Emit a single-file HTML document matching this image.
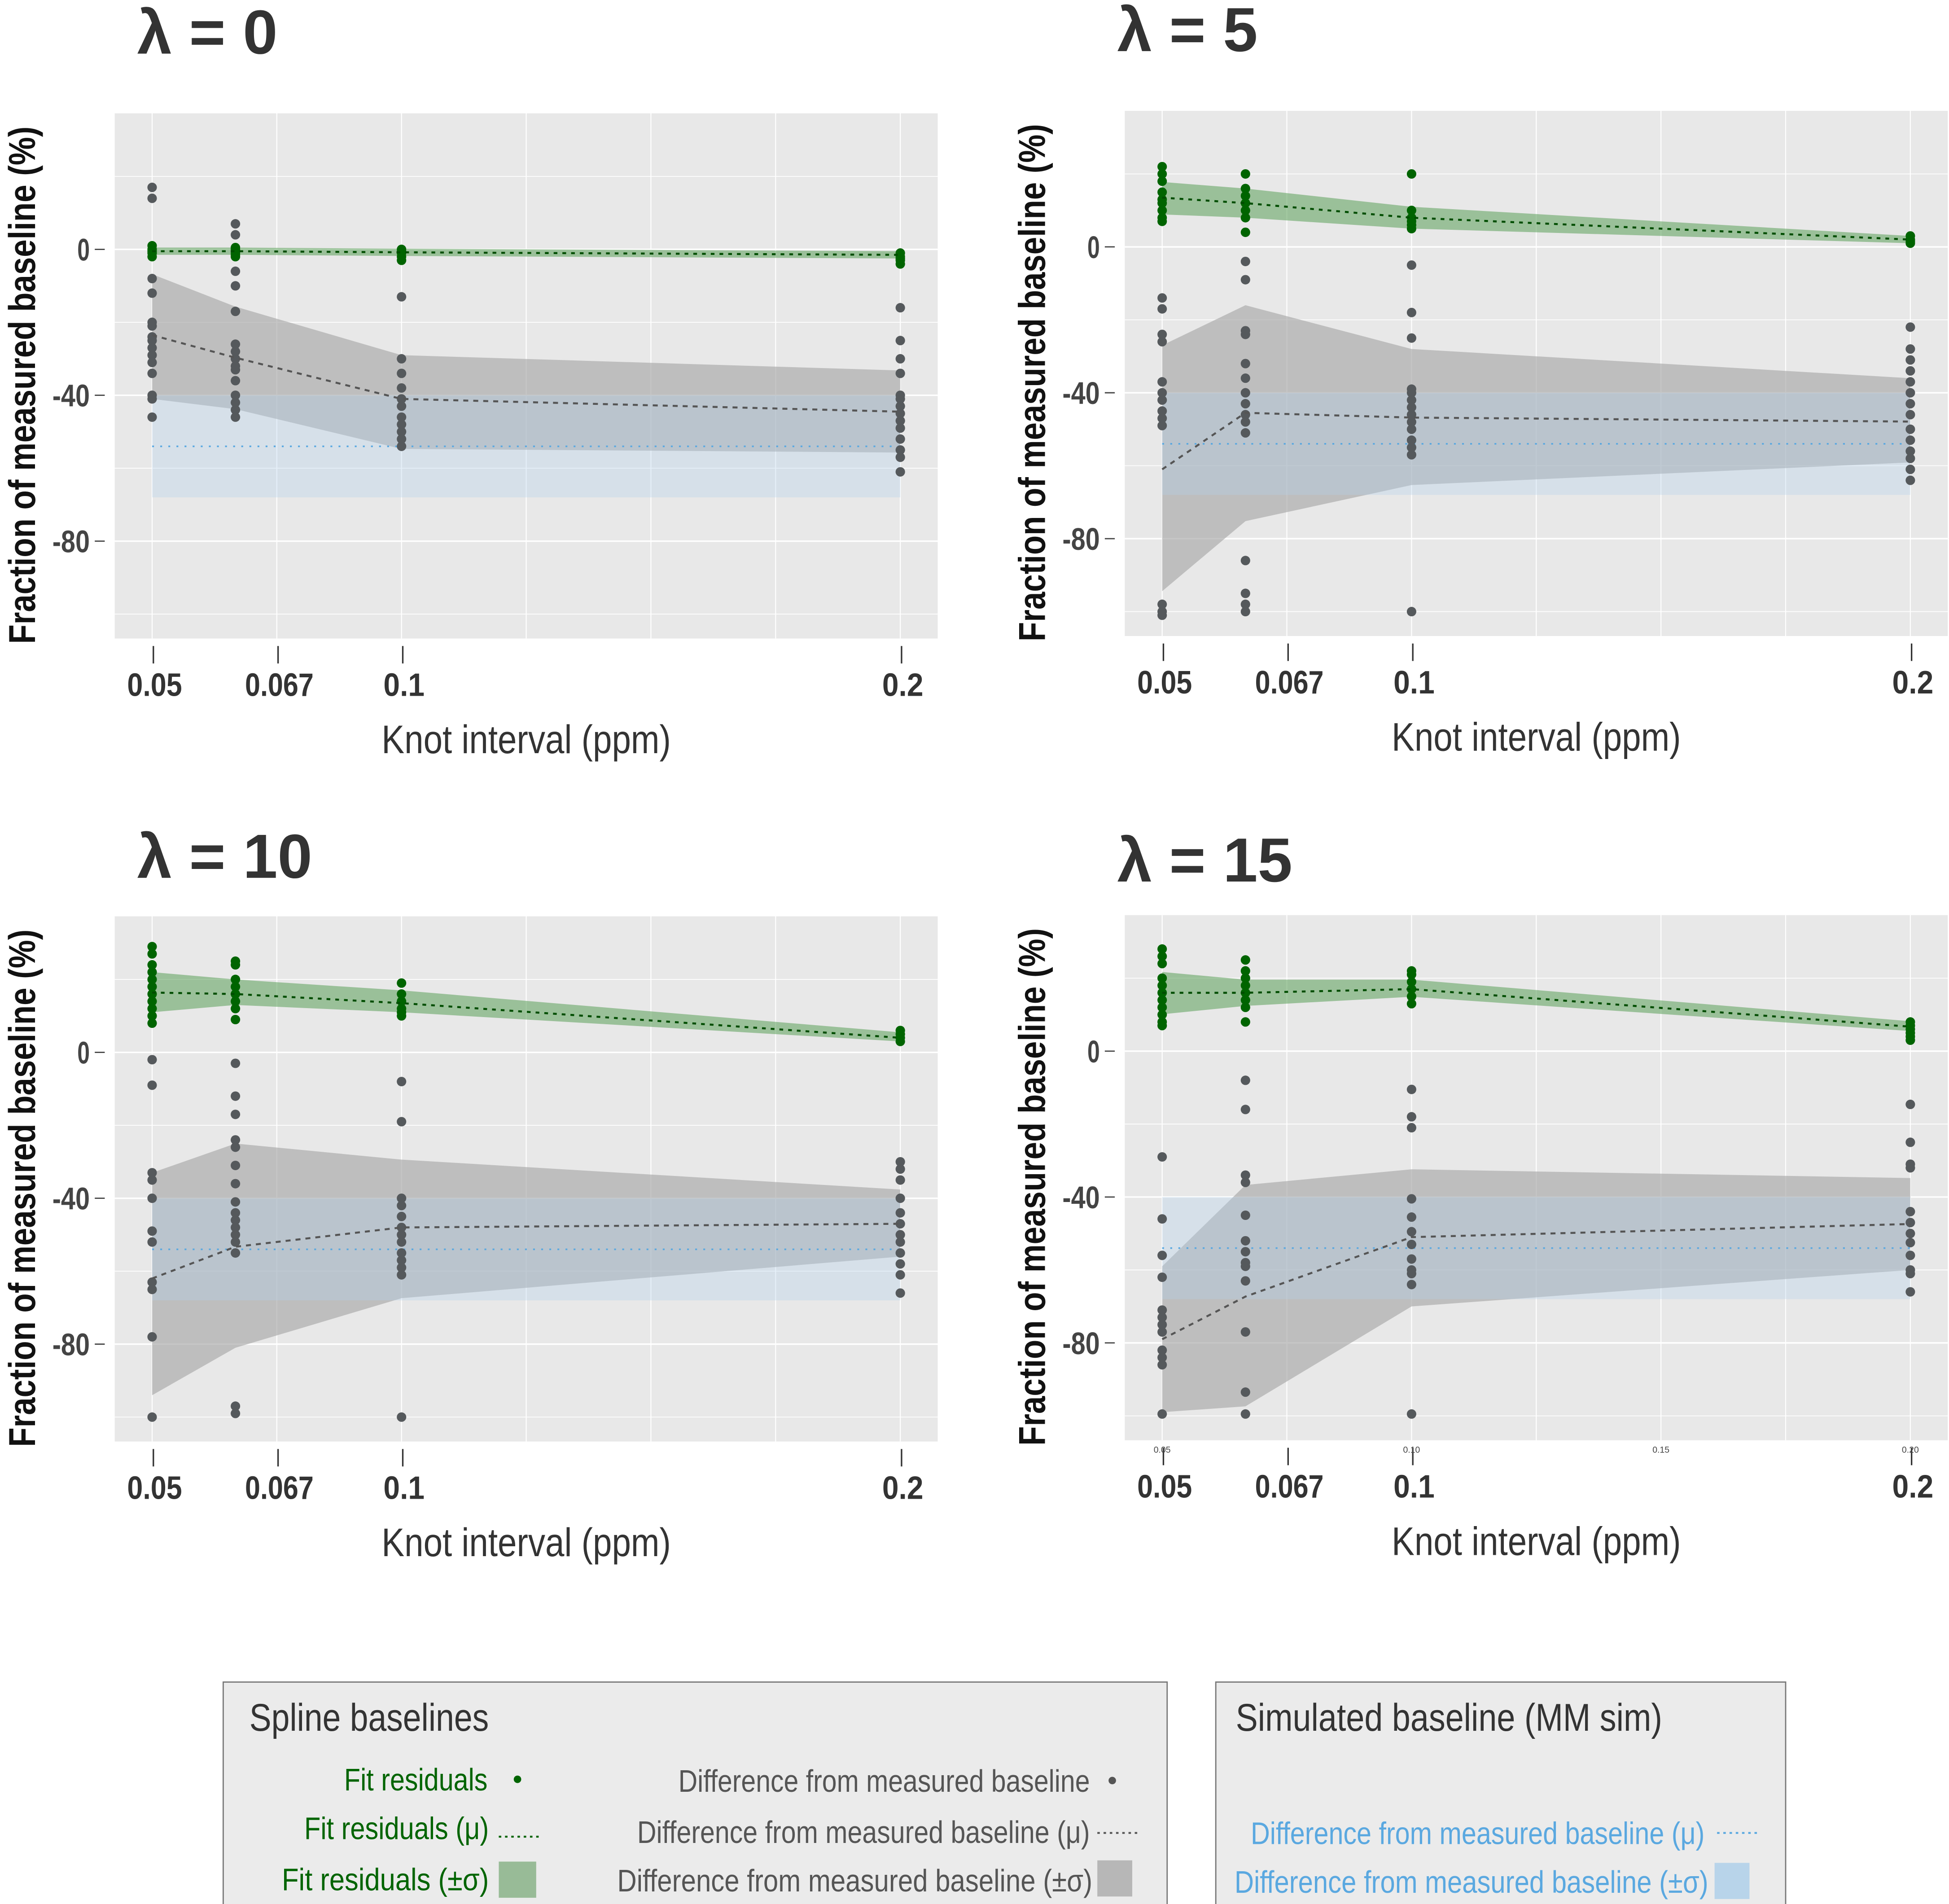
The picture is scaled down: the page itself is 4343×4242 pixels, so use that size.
<!DOCTYPE html>
<html><head><meta charset="utf-8"><style>
html,body{margin:0;padding:0;background:#fff;}
svg{display:block;}
text{font-family:"Liberation Sans Narrow","Liberation Sans",sans-serif;}
</style></head>
<body>
<svg id="fig" width="4343" height="4242" viewBox="0 0 1563 1527" preserveAspectRatio="none" xmlns="http://www.w3.org/2000/svg">
<g id="panels"></g>
<g id="legend">
  <rect x="179" y="1349" width="757" height="182" fill="#ebebeb" stroke="#777" stroke-width="1"/>
  <text x="200" y="1388" font-size="31" fill="#333" textLength="192" lengthAdjust="spacingAndGlyphs">Spline baselines</text>
  <text x="391" y="1436" font-size="25" fill="#006400" text-anchor="end" textLength="115" lengthAdjust="spacingAndGlyphs">Fit residuals</text>
  <circle cx="415" cy="1427" r="3" fill="#006400"/>
  <text x="392" y="1475" font-size="25" fill="#006400" text-anchor="end" textLength="148" lengthAdjust="spacingAndGlyphs">Fit residuals (μ)</text>
  <line x1="400" y1="1473" x2="432" y2="1473" stroke="#006400" stroke-width="1.5" stroke-dasharray="2,3"/>
  <text x="392" y="1516" font-size="25" fill="#006400" text-anchor="end" textLength="166" lengthAdjust="spacingAndGlyphs">Fit residuals (±σ)</text>
  <rect x="400" y="1493" width="30" height="29" fill="#98bb97"/>
  <text x="874" y="1437" font-size="25" fill="#555" text-anchor="end" textLength="330" lengthAdjust="spacingAndGlyphs">Difference from measured baseline</text>
  <circle cx="892" cy="1428" r="3" fill="#555"/>
  <text x="874" y="1478" font-size="25" fill="#555" text-anchor="end" textLength="363" lengthAdjust="spacingAndGlyphs">Difference from measured baseline (μ)</text>
  <line x1="880" y1="1470" x2="912" y2="1470" stroke="#555" stroke-width="1.5" stroke-dasharray="2,3"/>
  <text x="876" y="1517" font-size="25" fill="#555" text-anchor="end" textLength="381" lengthAdjust="spacingAndGlyphs">Difference from measured baseline (±σ)</text>
  <rect x="880" y="1492" width="28" height="29" fill="#b7b7b7"/>
  <rect x="975" y="1349" width="457" height="182" fill="#ebebeb" stroke="#777" stroke-width="1"/>
  <text x="991" y="1388" font-size="31" fill="#333" textLength="342" lengthAdjust="spacingAndGlyphs">Simulated baseline (MM sim)</text>
  <text x="1367" y="1479" font-size="25" fill="#5aa8e0" text-anchor="end" textLength="364" lengthAdjust="spacingAndGlyphs">Difference from measured baseline (μ)</text>
  <line x1="1377" y1="1470" x2="1410" y2="1470" stroke="#5aa8e0" stroke-width="1.5" stroke-dasharray="2,3"/>
  <text x="1370" y="1518" font-size="25" fill="#5aa8e0" text-anchor="end" textLength="380" lengthAdjust="spacingAndGlyphs">Difference from measured baseline (±σ)</text>
  <rect x="1375" y="1494" width="28" height="29" fill="#b8d4ea"/>
</g>
</svg>
<script>
// ---- data ----
const categories = [0.05, 0.0667, 0.1, 0.2];
const tickValues = [0.05, 0.075, 0.1, 0.2];
const tickLabels = ["0.05", "0.067", "0.1", "0.2"];
const yTickValues = [0, -40, -80];
const yTickLabels = ["0", "-40", "-80"];
const lambdaLabels = ["λ = 0", "λ = 5", "λ = 10", "λ = 15"];
const simMean = -54;
const simUpper = -40;
const simLower = -68;

const fitMean = [[-0.5,-0.5,-0.8,-1.5],[13.5,12,8,2],[16.4,16,13.5,4],[16,16,17,6.7]];
const fitUpper = [[0.5,0.5,0.2,-0.5],[17.8,16,11,3],[22,20,17,5.5],[21.7,19.6,19.6,8.2]];
const fitLower = [[-1.5,-1.5,-1.8,-2.5],[8.9,8,5,1],[11,13,11,3],[10.1,12.4,14.9,5.5]];
const fitPoints = [
  [[1,0,-0.5,-1,-2],[0.5,0,-1,-1.5,-2],[0,-0.5,-1,-2,-3],[-1,-2,-2.5,-3,-4]],
  [[22,20,18,15,13,12,10,8,7],[20,16,14,12,10,8,4],[20,10,8,7,6,5],[3,2,1.5,1]],
  [[29,27,24,22,20,18,16,14,12,10,8],[25,24,20,18,16,14,12,9],[19,16,14,12,11,10],[6,5,4,3]],
  [[28,26,24,20,18,16,14,12,10,8,7],[25,22,20,18,16,14,12,8],[22,21,19,17,15,13],[8,7,6,5,4,3]]
];
const diffMean = [[-23.5,-29.7,-41,-44.5],[-61,-45.5,-46.8,-47.9],[-62,-53.3,-48,-47],[-79,-67.3,-51,-47.4]];
const diffUpper = [[-6.8,-15.7,-29,-33.2],[-27,-16,-28,-36],[-33,-25,-29.4,-37.6],[-59,-36.7,-32.4,-34.8]];
const diffLower = [[-41,-43.8,-54.7,-55.7],[-94.4,-75.2,-65.3,-59.1],[-94,-81,-67.4,-56],[-99,-97.4,-70,-60]];
const diffPoints = [
  [[17,14,-8,-12,-20,-21,-24,-25,-27,-29,-31,-34,-40,-41,-46],[7,4,-6,-10,-17,-26,-28,-30,-32,-33,-36,-40,-42,-44,-46],[-13,-30,-34,-38,-41,-43,-46,-48,-50,-52,-54],[-16,-25,-30,-34,-40,-41,-43,-45,-47,-49,-52,-55,-57,-61]],
  [[-14,-17,-24,-26,-37,-40,-42,-45,-47,-49,-98,-100,-101],[-4,-9,-23,-24,-32,-36,-40,-43,-46,-48,-51,-86,-95,-98,-100],[-5,-18,-25,-39,-40,-42,-44,-46,-48,-50,-53,-55,-57,-100],[-22,-28,-31,-34,-37,-40,-43,-46,-50,-53,-56,-58,-61,-64]],
  [[-2,-9,-33,-35,-40,-49,-52,-63,-65,-78,-100],[-3,-12,-17,-24,-26,-31,-36,-41,-44,-46,-48,-50,-52,-55,-97,-99],[-8,-19,-40,-42,-45,-48,-50,-52,-55,-57,-59,-61,-100],[-30,-32,-35,-40,-44,-47,-50,-52,-55,-58,-61,-66]],
  [[-29,-46,-56,-62,-71,-73,-75,-77,-82,-84,-86,-99.5],[-8,-16,-34,-36,-45,-52,-55,-58,-59,-63,-77,-93.5,-99.5],[-10.5,-18,-21,-40.5,-45.5,-49.5,-53,-57,-60,-61,-64,-99.5],[-14.6,-25,-31,-32,-44,-47,-50,-52.5,-56,-60,-61,-66]]
];

// ---- layout ----
const NS = "http://www.w3.org/2000/svg";
const layout = [{x0:92,zy:200,ty:43,tx:110},{x0:902,zy:198,ty:41,tx:896},{x0:92,zy:844,ty:704,tx:110},{x0:902,zy:843,ty:707,tx:896}];
const W = 660, PX_PER_UNIT = 2.925;
function mk(tag, attrs, parent){ const e=document.createElementNS(NS,tag); for(const k in attrs) e.setAttribute(k,attrs[k]); parent.appendChild(e); return e; }
const root = document.getElementById("panels");

layout.forEach((L, p) => {
  const xs = v => L.x0 + 30 + (v - 0.05) * 4000;
  const ys = v => L.zy - v * PX_PER_UNIT;
  const top = ys(37.3), bot = ys(-106.7);
  const g = mk("g", {}, root);
  
  

  const title = mk("text", {x: L.tx, y: L.ty, "font-size": 50, "font-weight": "bold", fill: "#333"}, g);
  title.textContent = lambdaLabels[p];
  
  

  const bg = mk("rect", {x: L.x0, y: top, width: W, height: bot - top, fill: "#e8e8e8"}, g);
  
  

  for (let v = 20; v >= -100; v -= 20) {
    const gl = mk("line", {x1: L.x0, x2: L.x0 + W, y1: ys(v), y2: ys(v), stroke: "#fff", "stroke-width": (v % 40 === 0) ? 1.2 : 0.6}, g);
    
    
  }
  for (let v = 0.05; v <= 0.2001; v += 0.025) {
    const gl = mk("line", {x1: xs(v), x2: xs(v), y1: top, y2: bot, stroke: "#fff", "stroke-width": 0.8}, g);
    
    
  }

  const band = (up, lo, fill, op, name) => {
    let d = "M" + categories.map((c, i) => xs(c) + "," + ys(up[i])).join("L");
    d += "L" + categories.slice().reverse().map((c, i) => xs(c) + "," + ys(lo[lo.length - 1 - i])).join("L") + "Z";
    const e = mk("path", {d: d, fill: fill, "fill-opacity": op}, g);
    
    
  };
  band(diffUpper[p], diffLower[p], "#a8a8a8", 0.65, "diff-sigma-band");
  const sb = mk("rect", {x: xs(0.05), y: ys(simUpper), width: xs(0.2) - xs(0.05), height: ys(simLower) - ys(simUpper), fill: "#b4d0ec", "fill-opacity": 0.35}, g);
  
  
  band(fitUpper[p], fitLower[p], "#5a9f58", 0.55, "fit-sigma-band");

  const sl = mk("line", {x1: xs(0.05), x2: xs(0.2), y1: ys(simMean), y2: ys(simMean), stroke: "#5aa8e0", "stroke-width": 1.3, "stroke-dasharray": "1.5,5"}, g);
  
  

  diffPoints[p].forEach((arr, i) => arr.forEach(v => {
    const c = mk("circle", {cx: xs(categories[i]), cy: ys(v), r: 3.8, fill: "#55595c"}, g);
    
    
  }));
  fitPoints[p].forEach((arr, i) => arr.forEach(v => {
    const c = mk("circle", {cx: xs(categories[i]), cy: ys(v), r: 3.8, fill: "#006400"}, g);
    
    
  }));

  const line = (vals, col, dash, name) => {
    const e = mk("polyline", {points: categories.map((c, i) => xs(c) + "," + ys(vals[i])).join(" "), fill: "none", stroke: col, "stroke-width": 1.6, "stroke-dasharray": dash}, g);
    
    
  };
  line(diffMean[p], "#555", "4,4", "diff-mean-line");
  line(fitMean[p], "#004d00", "3,4", "fit-mean-line");

  yTickValues.forEach((v, i) => {
    const t = mk("line", {x1: L.x0 - 16, x2: L.x0 - 8, y1: ys(v), y2: ys(v), stroke: "#444", "stroke-width": 1}, g);
    
    
    const lb = mk("text", {x: L.x0 - 20, y: ys(v) + 9, "font-size": 25, "font-weight": "bold", fill: "#444", "text-anchor": "end", textLength: yTickLabels[i].length * 10, lengthAdjust: "spacingAndGlyphs"}, g);
    lb.textContent = yTickLabels[i];
    
    
  });
  const yt = mk("text", {x: 0, y: 0, "font-size": 30, "font-weight": "bold", fill: "#111", "text-anchor": "middle", transform: "translate(" + (L.x0 - 64) + "," + (top + 218) + ") rotate(-90)", textLength: 415, lengthAdjust: "spacingAndGlyphs"}, g);
  yt.textContent = "Fraction of measured baseline (%)";
  
  

  tickValues.forEach((v, i) => {
    const t = mk("line", {x1: xs(v) + 1, x2: xs(v) + 1, y1: bot + 6, y2: bot + 20, stroke: "#333", "stroke-width": 1.2}, g);
    
    
    const lb = mk("text", {x: xs(v) + 2, y: bot + 46, "font-size": 26, "font-weight": "bold", fill: "#333", "text-anchor": "middle", textLength: tickLabels[i].length * 11, lengthAdjust: "spacingAndGlyphs"}, g);
    lb.textContent = tickLabels[i];
    
    
  });
  if (p === 3) {
    ["0.05", "0.10", "0.15", "0.20"].forEach((s, i) => {
      const lb = mk("text", {x: xs(0.05 + i * 0.05), y: bot + 10, "font-size": 7, fill: "#444", "text-anchor": "middle"}, g);
      lb.textContent = s;
      
      
    });
  }
  const xt = mk("text", {x: L.x0 + 330, y: bot + 92, "font-size": 32, fill: "#333", "text-anchor": "middle", textLength: 232, lengthAdjust: "spacingAndGlyphs"}, g);
  xt.textContent = "Knot interval (ppm)";
  
  
});
</script>
</body></html>
